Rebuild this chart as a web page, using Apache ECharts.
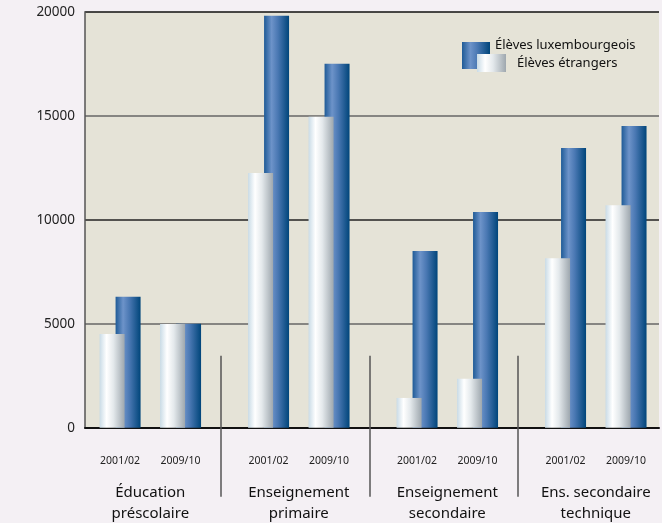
<!DOCTYPE html>
<html>
<head>
<meta charset="utf-8">
<script src="https://cdn.jsdelivr.net/npm/echarts@6/dist/echarts.min.js"></script>
<style>
  html, body { margin: 0; padding: 0; background: #f4f0f4; }
  #chart { width: 662px; height: 523px; }
</style>
</head>
<body>
<div id="chart"></div>
<script>
// school levels and school years
const groups = ['Éducation\npréscolaire', 'Enseignement\nprimaire', 'Enseignement\nsecondaire', 'Ens. secondaire\ntechnique'];
const years = ['2001/02', '2009/10'];

// pupils per level and year (2001/02, 2009/10 for each level)
const luxembourgeois = [6300, 5000, 19800, 17500, 8500, 10370, 13450, 14500];
const etrangers = [4500, 4980, 12250, 14950, 1430, 2350, 8150, 10700];

const yTicks = [0, 5000, 10000, 15000, 20000];

/**
 * Bars sit on a value axis so the gap between levels can be wider
 * than the gap between the two years of a level.
 */
const GROUP_STEP = 2.455;
const positions = [];
groups.forEach(function (g, gi) {
    years.forEach(function (y, yi) {
        positions.push(gi * GROUP_STEP + yi);
    });
});
const groupCenters = groups.map(function (g, gi) { return gi * GROUP_STEP + 0.5; });
const separators = groups.slice(1).map(function (g, gi) { return (gi * GROUP_STEP + 1 + (gi + 1) * GROUP_STEP) / 2 - 0.06; });

function nearest(list, v) {
    let best = 0;
    list.forEach(function (p, i) {
        if (Math.abs(p - v) < Math.abs(list[best] - v)) best = i;
    });
    return best;
}

const FONT = '"Noto Sans", sans-serif';

const whiteGrad = new echarts.graphic.LinearGradient(0, 0, 1, 0, [
    { offset: 0, color: '#c9dbe6' },
    { offset: 0.28, color: '#ffffff' },
    { offset: 0.55, color: '#e4e9ec' },
    { offset: 1, color: '#9ea7ae' }
]);
const blueGrad = new echarts.graphic.LinearGradient(0, 0, 1, 0, [
    { offset: 0, color: '#1f5b97' },
    { offset: 0.3, color: '#6d93c9' },
    { offset: 0.55, color: '#4a78b3' },
    { offset: 1, color: '#00457a' }
]);

const xMin = -0.58;
const xMax = 8.91;

const chart = echarts.init(document.getElementById('chart'));
chart.setOption({
    backgroundColor: '#f4f0f4',
    animation: false,
    textStyle: { fontFamily: FONT },
    grid: {
        left: 85, right: 3, top: 11.7, bottom: 95.3,
        outerBoundsMode: 'none',
        show: true, backgroundColor: '#e5e3d7', borderWidth: 0
    },
    legend: [{
        data: [{ name: 'Élèves luxembourgeois', icon: 'rect' }],
        left: 462, top: 34.5, padding: 0,
        itemWidth: 28, itemHeight: 27,
        // blank second line lifts the label to the top half of the icon
        formatter: function (name) { return name + '\n '; },
        textStyle: { fontFamily: FONT, fontSize: 13, lineHeight: 21, color: '#111' }
    }, {
        data: [{ name: 'Élèves étrangers', icon: 'rect' }],
        left: 477, top: 54, z: 5, padding: 0,
        itemWidth: 29, itemHeight: 18,
        textStyle: { fontFamily: FONT, fontSize: 13, color: '#111', padding: [0, 0, 0, 6] }
    }],
    xAxis: [{
        type: 'value', min: xMin, max: xMax,
        axisLine: { show: true, onZero: false, lineStyle: { color: '#111', width: 2 } },
        axisTick: { show: false },
        splitLine: { show: false },
        axisLabel: {
            customValues: positions,
            formatter: function (v) { return years[nearest(positions, v) % 2]; },
            margin: 28, fontSize: 10.5, color: '#222', fontFamily: FONT
        }
    }, {
        type: 'value', min: xMin, max: xMax,
        position: 'bottom', offset: -72,
        axisLine: { show: false },
        axisTick: {
            show: true, inside: false, length: 141,
            customValues: separators,
            lineStyle: { color: '#555', width: 1.5 }
        },
        splitLine: { show: false },
        axisLabel: {
            customValues: groupCenters,
            formatter: function (v) { return groups[nearest(groupCenters, v)]; },
            margin: 127, fontSize: 15, lineHeight: 21, color: '#111', fontFamily: FONT
        }
    }],
    yAxis: {
        type: 'value', min: yTicks[0], max: yTicks[yTicks.length - 1], interval: 5000,
        axisLine: { show: true, onZero: false, lineStyle: { color: '#555', width: 1.5 } },
        axisTick: { show: false },
        axisLabel: {
            fontSize: 13.5, color: '#222', margin: 10, fontFamily: FONT,
            formatter: function (v) { return String(v); }
        },
        splitLine: { lineStyle: { color: ['#222', '#666', '#222', '#666', '#111'], width: 1.5 } }
    },
    series: [{
        name: 'Élèves étrangers',
        type: 'bar',
        xAxisIndex: 0,
        z: 3,
        barWidth: 25,
        barGap: '-36%',
        itemStyle: { color: whiteGrad },
        data: etrangers.map(function (v, i) { return [positions[i], v]; })
    }, {
        name: 'Élèves luxembourgeois',
        type: 'bar',
        xAxisIndex: 0,
        z: 2,
        barWidth: 25,
        barGap: '-36%',
        itemStyle: { color: blueGrad },
        data: luxembourgeois.map(function (v, i) { return [positions[i], v]; })
    }]
});
</script>
</body>
</html>
